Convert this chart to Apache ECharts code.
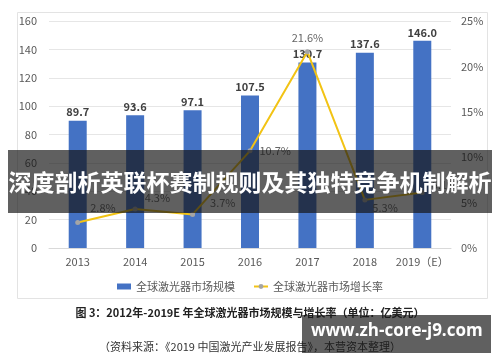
<!DOCTYPE html>
<html><head><meta charset="utf-8">
<script src="https://cdn.jsdelivr.net/npm/echarts@6/dist/echarts.min.js"></script>
<style>html,body{margin:0;padding:0;background:#fff}#c{width:500px;height:362px}</style>
</head><body><div id="c"></div>
<script>
const categories = ['2013','2014','2015','2016','2017','2018','2019（E）'];
const marketSize = [89.7, 93.6, 97.1, 107.5, 130.7, 137.6, 146.0];
const growthRate = [2.8, 4.3, 3.7, 10.7, 21.6, 5.3, 6.1];
const leftTicks = {min:0, max:160, interval:20};
const rightTicks = {min:0, max:25, interval:5};
const seriesNames = ['全球激光器市场规模','全球激光器市场增长率'];
const caption1 = '图 3：2012年-2019E 年全球激光器市场规模与增长率（单位：亿美元）';
const caption2 = '（资料来源：《2019 中国激光产业发展报告》，本营资本整理）';
const bannerText = '深度剖析英联杯赛制规则及其独特竞争机制解析';
const watermark = 'www.zh-core-j9.com';

const labelOffsets = [[6,-15],[3,-11],[11,-12],[3,0],null,[1,8],[3,-8]];
const FONT = '"Noto Sans CJK SC", "Noto Sans", sans-serif';

const chart = echarts.init(document.getElementById('c'));
chart.setOption({
  animation:false,
  textStyle:{fontFamily:FONT},
  grid:{left:49, right:49, top:21, bottom:114},
  legend:{
    top:276, left:'center', itemGap:18, itemWidth:14, itemHeight:6,
    textStyle:{color:'#595959', fontSize:11, fontFamily:FONT},
    data:[{name:seriesNames[0], icon:'rect'},{name:seriesNames[1]}]
  },
  xAxis:{type:'category', data:categories,
    axisLine:{lineStyle:{color:'#d9d9d9'}}, axisTick:{show:false},
    axisLabel:{color:'#595959', fontSize:11, margin:8, interval:0}},
  yAxis:[
    {type:'value', min:leftTicks.min, max:leftTicks.max, interval:leftTicks.interval,
     axisLabel:{color:'#595959', fontSize:11, margin:12},
     splitLine:{lineStyle:{color:'#e6e6e6'}}, axisLine:{show:false}, axisTick:{show:false}},
    {type:'value', min:rightTicks.min, max:rightTicks.max, interval:rightTicks.interval,
     axisLabel:{color:'#595959', fontSize:11, margin:10, formatter:'{value}%'},
     splitLine:{show:false}, axisLine:{show:false}, axisTick:{show:false}}
  ],
  series:[
    {name:seriesNames[0], type:'bar', data:marketSize, barWidth:18,
     itemStyle:{color:'#4472C4'},
     label:{show:true, position:'top', distance:3, color:'#404040', fontSize:11, fontWeight:'bold',
       formatter:p=>p.value.toFixed(1)}},
    {name:seriesNames[1], type:'line', yAxisIndex:1, z:3,
     data:growthRate.map((v,i)=>{
       const o = labelOffsets[i];
       const item = {value:v};
       if(o){ item.label = {position:'right', distance:4, offset:o}; }
       else { item.label = {position:'top', distance:6}; }
       return item;
     }),
     symbol:'circle', symbolSize:5,
     itemStyle:{color:'#A5A5A5'},
     lineStyle:{color:'#F2C314', width:2},
     label:{show:true, color:'#666', fontSize:11, formatter:p=>p.value.toFixed(1)+'%'}}
  ],
  graphic:[
    {type:'rect', left:15, top:10, z:-1, shape:{width:470, height:286}, style:{fill:'none', stroke:'#e3e3e3', lineWidth:1}},
    {type:'text', left:'center', top:307, style:{text:caption1, fill:'#222', font:'bold 11px '+FONT}},
    {type:'text', left:'center', top:341, style:{text:caption2, fill:'#333', font:'11px '+FONT}},
    {type:'rect', left:8, top:150, z:100, shape:{width:484, height:63}, style:{fill:'rgba(20,20,20,0.68)'}},
    {type:'text', left:'center', top:171, z:101, style:{text:bannerText, fill:'#fff', font:'bold 23px '+FONT}},
    {type:'rect', left:302, top:315, z:100, shape:{width:189, height:38}, style:{fill:'rgba(20,20,20,0.68)'}},
    {type:'text', left:311, top:323, z:101, style:{text:watermark, fill:'#fff', font:'bold 17px "Open Sans", sans-serif'}}
  ]
});
</script></body></html>
